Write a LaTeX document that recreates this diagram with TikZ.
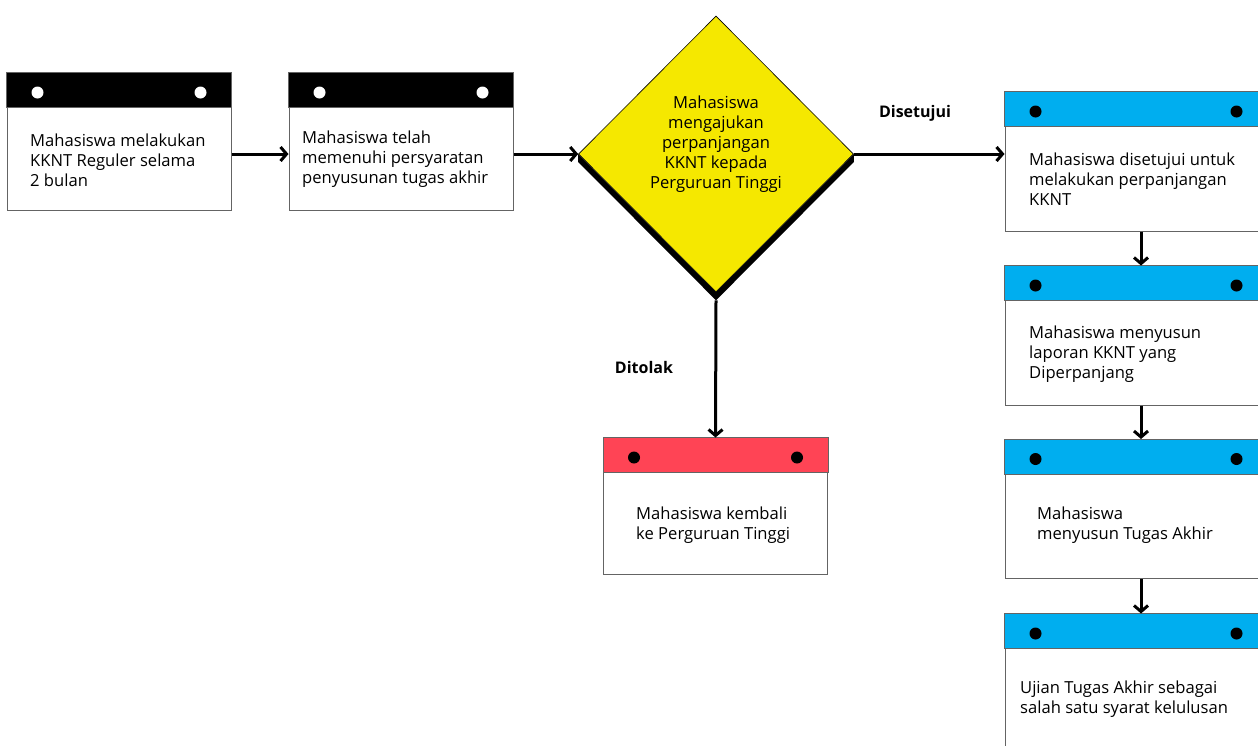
\documentclass[tikz,border=0pt]{standalone}
\usepackage{fontspec}
\setmainfont{Open Sans}
\usetikzlibrary{shapes.geometric,arrows.meta}
\definecolor{sky blue}{RGB}{0,174,239}
\definecolor{warm red}{RGB}{255,68,85}
\definecolor{sign yellow}{RGB}{245,232,0}
\definecolor{edge gray}{RGB}{100,100,100}

\tikzset{
	card/.style={draw=edge gray, line width=1pt, fill=white, inner sep=0pt, minimum width=224pt, minimum height=137pt},
	wide card/.style={card, minimum width=272pt, minimum height=139pt},
	label/.style={anchor=west, align=left, inner sep=0pt, font=\fontsize{16.6}{20}\selectfont},
	flow/.style={line width=3pt, -{Straight Barb[length=6pt,width=14pt]}},
	answer/.style={font=\bfseries\fontsize{16}{20}\selectfont, inner sep=0pt}
}

\begin{document}
\begin{tikzpicture}[x=1pt, y=-1pt]
			\fill[white] (0,0) rectangle (1258,745);
			\useasboundingbox (0,0) rectangle (1258,745);
			\clip (0,0) rectangle (1258,745);
			% cards
			\node[card] (b1) at (119,141.5) {};
			\node[card] (b2) at (401,141.5) {};
			\node[card, minimum height=136pt] (back) at (715.5,506) {};
			\node[wide card] (ok) at (1141,161.5) {};
			\node[wide card] (report) at (1141,335.5) {};
			\node[wide card] (thesis) at (1141,509) {};
			\node[wide card] (exam) at (1141,683.5) {};
			% headers with two holes
			\foreach \c/\h/\d/\r in {b1/black/white/31, b2/black/white/31, back/warm red/black/31,
					ok/sky blue/black/41, report/sky blue/black/41, thesis/sky blue/black/41, exam/sky blue/black/41}
			{
				\filldraw[fill=\h, draw=edge gray, line width=1pt] (\c.north west) rectangle ([yshift=-35pt]\c.north east);
				\fill[\d] ([xshift=31pt, yshift=-20pt]\c.north west) circle (6pt);
				\fill[\d] ([xshift=-\r pt, yshift=-20pt]\c.north east) circle (6pt);
			}
			% decision
			\node[diamond, draw=black, line width=0.6pt, fill=sign yellow, minimum width=275pt, minimum height=276pt, inner sep=0pt] (ask) at (716,154) {};
			\fill[black] (ask.west) -- (ask.south) -- (ask.east) -- ([yshift=-8pt]ask.east) -- ([yshift=-8pt]ask.south) -- ([yshift=-8pt]ask.west) -- cycle;
			\node[label, anchor=center, align=center] (asktext) at (716,144) {Mahasiswa\\mengajukan\\perpanjangan\\KKNT kepada\\Perguruan Tinggi};
			% texts
			\node[label] (t1) at (30,160) {Mahasiswa melakukan\\KKNT Reguler selama\\2 bulan};
			\node[label] (t2) at (302,159) {Mahasiswa telah\\memenuhi persyaratan\\penyusunan tugas akhir};
			\node[label] (tback) at (636,525) {Mahasiswa kembali\\ke Perguruan Tinggi};
			\node[label] (tok) at (1029,179) {Mahasiswa disetujui untuk\\melakukan perpanjangan\\KKNT};
			\node[label] (treport) at (1029,354) {Mahasiswa menyusun\\laporan KKNT yang\\Diperpanjang};
			\node[label] (tthesis) at (1037,525) {Mahasiswa\\menyusun Tugas Akhir};
			\node[label] (texam) at (1020,699) {Ujian Tugas Akhir sebagai\\salah satu syarat kelulusan};
			% arrows
			\draw[flow] (b1.east |- ask.west) -- (b2.west |- ask.west);
			\draw[flow] (b2.east |- ask.west) -- (ask.west);
			\draw[flow] (ask.east) -- (ok.west |- ask.east);
			\draw[flow] ([yshift=-8pt]ask.south) -- (back.north);
			\draw[flow] (ok.south) -- (report.north);
			\draw[flow] (report.south) -- (thesis.north);
			\draw[flow] (thesis.south) -- (exam.north);
			\node[answer] (yes) at (915,113) {Disetujui};
			\node[answer] (no) at (644,367) {Ditolak};
		\end{tikzpicture}
\end{document}
